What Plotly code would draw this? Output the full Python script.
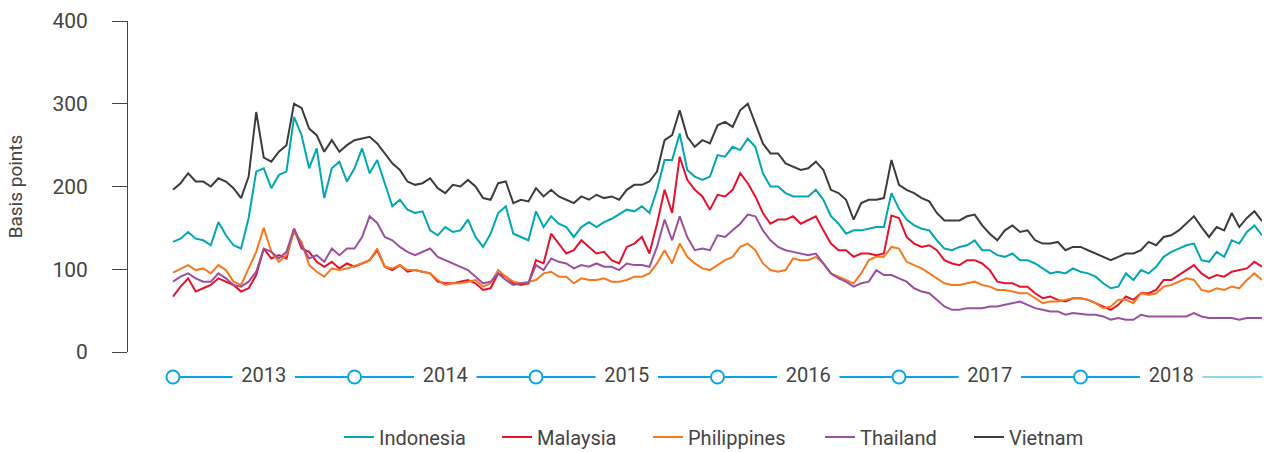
import plotly.graph_objects as go

# ---- data: values sampled twice a month, Jan 2013 .. Dec 2018 (basis points) ----
steps_per_year = 24
start_year = 2013
years = [2013, 2014, 2015, 2016, 2017, 2018]
year_labels = ["2013", "2014", "2015", "2016", "2017", "2018"]

indonesia = [
    133, 137, 145, 137, 135, 129, 157, 141, 129, 125, 162, 218, 222, 198, 214, 218, 284, 262, 222, 246, 186, 222, 230, 206,
    222, 246, 216, 232, 204, 176, 184, 172, 168, 170, 147, 141, 151, 145, 147, 160, 139, 127, 143, 168, 176, 143, 139, 135,
    170, 151, 164, 155, 151, 139, 151, 157, 151, 157, 161, 166, 172, 170, 176, 168, 196, 232, 232, 264, 220, 212, 208, 212,
    238, 236, 248, 244, 258, 248, 216, 200, 200, 192, 188, 188, 188, 196, 184, 164, 155, 143, 147, 147, 149, 151, 151, 192,
    173, 160, 153, 149, 147, 135, 125, 123, 127, 129, 135, 123, 123, 117, 115, 119, 111, 111, 107, 101, 95, 97, 95, 101,
    97, 95, 91, 83, 77, 79, 95, 87, 99, 95, 103, 115, 121, 125, 129, 131, 111, 109, 121, 115, 135, 131, 145, 153, 141,
]
malaysia = [
    67, 79, 89, 73, 77, 81, 89, 85, 81, 73, 77, 93, 125, 113, 117, 113, 149, 125, 121, 109, 103, 109, 101, 107,
    103, 107, 111, 123, 103, 99, 105, 97, 99, 97, 95, 85, 83, 83, 85, 87, 83, 75, 77, 95, 91, 83, 81, 83,
    111, 107, 143, 131, 119, 123, 135, 127, 119, 121, 111, 107, 127, 131, 139, 119, 155, 196, 168, 236, 208, 196, 188, 172,
    190, 188, 196, 216, 204, 188, 168, 155, 160, 160, 164, 155, 160, 164, 147, 131, 123, 123, 115, 119, 119, 117, 119, 165,
    162, 139, 131, 127, 129, 123, 111, 107, 105, 111, 111, 107, 99, 85, 83, 83, 79, 79, 71, 65, 67, 63, 61, 65,
    65, 63, 59, 55, 51, 57, 67, 63, 71, 71, 75, 87, 87, 93, 99, 105, 95, 89, 93, 91, 97, 99, 101, 109, 103,
]
philippines = [
    96, 101, 105, 99, 101, 95, 105, 99, 85, 81, 101, 121, 150, 121, 109, 117, 145, 133, 105, 97, 91, 101, 99, 101,
    104, 107, 111, 125, 103, 101, 105, 99, 99, 97, 95, 87, 81, 83, 83, 85, 87, 79, 83, 99, 91, 85, 83, 85,
    87, 95, 97, 91, 91, 83, 89, 87, 87, 89, 85, 85, 87, 91, 91, 95, 107, 123, 107, 131, 115, 107, 101, 99,
    105, 111, 115, 127, 131, 123, 107, 99, 97, 99, 113, 111, 111, 115, 107, 95, 91, 87, 83, 95, 111, 115, 115, 127,
    125, 109, 105, 101, 95, 89, 83, 81, 81, 83, 85, 81, 79, 75, 75, 73, 71, 71, 65, 59, 61, 61, 63, 65,
    65, 63, 59, 53, 55, 63, 63, 59, 71, 69, 71, 79, 81, 85, 89, 87, 75, 73, 77, 75, 79, 77, 87, 95, 87,
]
thailand = [
    85, 91, 95, 89, 85, 85, 95, 89, 81, 79, 85, 97, 125, 121, 113, 121, 149, 129, 113, 117, 109, 125, 117, 125,
    125, 139, 164, 156, 139, 135, 127, 121, 117, 121, 125, 115, 111, 107, 103, 99, 91, 83, 85, 95, 87, 81, 83, 83,
    105, 99, 113, 109, 107, 101, 105, 103, 107, 103, 103, 99, 107, 105, 105, 103, 127, 160, 135, 164, 139, 123, 125, 123,
    141, 139, 147, 155, 166, 164, 147, 135, 127, 123, 121, 119, 117, 119, 107, 95, 89, 85, 79, 83, 85, 99, 93, 93,
    89, 85, 77, 73, 71, 63, 55, 51, 51, 53, 53, 53, 55, 55, 57, 59, 61, 57, 53, 51, 49, 49, 45, 47,
    46, 45, 45, 43, 39, 41, 39, 39, 45, 43, 43, 43, 43, 43, 43, 47, 43, 41, 41, 41, 41, 39, 41, 41, 41,
]
vietnam = [
    196, 204, 216, 206, 206, 200, 210, 206, 198, 186, 212, 290, 235, 230, 242, 250, 300, 295, 270, 262, 242, 256, 242, 250,
    256, 258, 260, 252, 240, 228, 220, 206, 202, 204, 210, 198, 192, 202, 200, 208, 200, 186, 184, 204, 206, 180, 184, 182,
    198, 188, 196, 188, 184, 180, 188, 184, 190, 186, 188, 184, 196, 202, 202, 206, 218, 256, 262, 292, 260, 248, 256, 252,
    274, 278, 272, 292, 300, 276, 252, 240, 240, 228, 224, 220, 222, 230, 220, 196, 192, 184, 160, 180, 184, 184, 186, 232,
    202, 196, 192, 186, 182, 168, 159, 159, 159, 164, 166, 153, 143, 135, 147, 153, 145, 147, 135, 131, 131, 133, 123, 127,
    127, 123, 119, 115, 111, 115, 119, 119, 123, 133, 129, 139, 141, 147, 155, 164, 151, 139, 151, 147, 168, 151, 162, 170, 158,
]

series = [
    ("Indonesia", indonesia, "#00a7b3", 113),
    ("Malaysia", malaysia, "#e5122d", 106),
    ("Philippines", philippines, "#f47a20", 127),
    ("Thailand", thailand, "#9a50a0", 104),
    ("Vietnam", vietnam, "#3c3c3c", 90),
]

t = [start_year + k / steps_per_year for k in range(len(vietnam))]

FONT = "Roboto"
TXT = "#444444"
BLUE = "#0aa5e6"
LIGHT_BLUE = "#8dd4f2"

# figure is a little taller than the window so the legend never pushes the margins;
# plot area spans pixels 21..392 from the top
FIG_H = 470
TOP = 21
BOTTOM = FIG_H - 392
PLOT_H = FIG_H - TOP - BOTTOM  # 371

def frac(px_from_top):
    return (392 - px_from_top) / PLOT_H

fig = go.Figure()
for name, vals, col, lw in series:
    fig.add_trace(go.Scatter(x=t, y=vals, name=name, mode="lines", legendwidth=lw,
                             line=dict(color=col, width=2), hoverinfo="skip"))

# ---- timeline under the chart ----
gap = 0.172
seg_x = []
for y in years:
    seg_x += [y, y + 0.5 - gap, None]
    if y != years[-1]:
        seg_x += [y + 0.5 + gap, y + 1, None]
seg_y = [0 if v is not None else None for v in seg_x]
fig.add_trace(go.Scatter(x=seg_x, y=seg_y, yaxis="y2", mode="lines",
                         line=dict(color=BLUE, width=2), showlegend=False, hoverinfo="skip"))
last = years[-1]
fig.add_trace(go.Scatter(x=[last + 0.5 + gap, last + 1], y=[0, 0], yaxis="y2", mode="lines",
                         line=dict(color=LIGHT_BLUE, width=2), showlegend=False, hoverinfo="skip"))
fig.add_trace(go.Scatter(x=years, y=[0] * len(years), yaxis="y2", mode="markers",
                         marker=dict(symbol="circle", size=13, color="white",
                                     line=dict(color=BLUE, width=2)),
                         showlegend=False, hoverinfo="skip", cliponaxis=False))
fig.add_trace(go.Scatter(x=[y + 0.5 for y in years], y=[0] * len(years), yaxis="y2", mode="text",
                         text=year_labels, textposition="middle center",
                         textfont=dict(family=FONT, size=20, color=TXT),
                         showlegend=False, hoverinfo="skip", cliponaxis=False))

tl_c = frac(377)
fig.update_layout(
    width=1264, height=FIG_H,
    margin=dict(l=128, r=2, t=TOP, b=BOTTOM),
    paper_bgcolor="white", plot_bgcolor="white",
    font=dict(family=FONT, color=TXT),
    xaxis=dict(range=[2012.752, 2019.0], visible=False, showgrid=False, zeroline=False,
               automargin=False),
    yaxis=dict(domain=[frac(352), 1], range=[0, 400], tickvals=[0, 100, 200, 300, 400],
               showgrid=False, zeroline=False, showline=True, linecolor="#444", linewidth=1,
               ticks="outside", ticklen=15, tickcolor="#444", tickwidth=1,
               ticklabelstandoff=20, automargin=False,
               tickfont=dict(family=FONT, size=21, color=TXT),
               title=dict(text="Basis points", font=dict(family=FONT, size=19, color=TXT), standoff=24)),
    yaxis2=dict(domain=[tl_c - 0.04, tl_c + 0.04], range=[-1, 1], visible=False, anchor="x",
                automargin=False),
    legend=dict(orientation="h", x=(339 - 128) / 1134, xanchor="left", y=frac(437), yanchor="middle",
                font=dict(family=FONT, size=20, color=TXT), itemwidth=30),
    showlegend=True,
)

fig.write_html("out.html", config={"displayModeBar": False},
               post_script="document.body.style.margin='0';document.body.style.overflow='hidden';")
